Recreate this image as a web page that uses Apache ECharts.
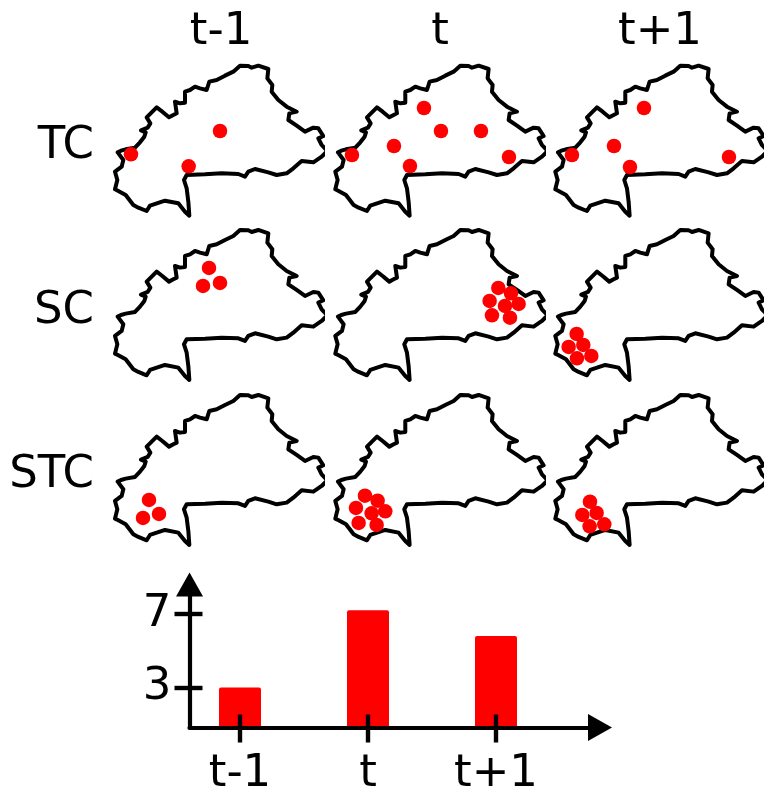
<!DOCTYPE html>
<html><head><meta charset="utf-8">
<style>html,body{margin:0;padding:0;background:#fff}#c{width:764px;height:794px}</style>
<script src="https://cdn.jsdelivr.net/npm/echarts@6/dist/echarts.min.js"></script>
</head><body><div id="c"></div>
<script>
const periods = ['t-1','t','t+1'];
const methods = ['TC','SC','STC'];
const barValues = [3, 7.2, 5.8];
const yTicks = [3, 7];
const outline = [[38,292],[48,287],[62,283],[90,278],[105,262],[118,245],[122,232],[108,226],[128,218],[136,205],[125,187],[140,172],[155,157],[172,170],[192,187],[205,180],[215,175],[210,140],[225,145],[240,143],[240,110],[255,105],[270,95],[285,100],[305,105],[313,80],[335,75],[360,62],[385,50],[405,32],[430,33],[440,38],[460,32],[490,42],[487,70],[502,90],[500,110],[520,135],[545,155],[575,170],[553,175],[550,195],[575,212],[600,230],[625,218],[640,220],[655,243],[640,250],[650,270],[667,288],[650,305],[625,322],[590,318],[565,340],[545,355],[515,360],[490,352],[450,342],[430,350],[420,365],[400,357],[350,355],[300,358],[245,360],[237,375],[245,400],[250,440],[253,482],[240,470],[220,445],[180,437],[135,452],[125,468],[100,458],[85,450],[62,420],[40,408],[30,403],[37,375],[30,350],[50,335],[55,315],[38,292]];
const tcPrev = [[345,228],[78,298],[251,334]];
const tcNow = [[296,159],[347,228],[467,228],[206,273],[80,300],[254,333],[551,306]];
const tcNext = [[296,159],[206,273],[80,300],[254,336],[551,306]];
const scPrev = [[312,146],[345,191],[294,200]];
const scNow = [[519,206],[557,222],[493,245],[539,260],[580,254],[500,288],[554,295]];
const scNext = [[94,344],[114,377],[70,383],[138,410],[95,417]];
const stcPrev = [[132,347],[162,389],[114,401]];
const stcNow = [[119,334],[157,349],[92,371],[139,387],[180,381],[100,416],[154,422]];
const stcNext = [[134,352],[154,386],[111,392],[177,420],[133,426]];
const panels = [[tcPrev,tcNow,tcNext],[scPrev,scNow,scNext],[stcPrev,stcNow,stcNext]];

const font = {fontFamily:'DejaVu Sans',fontSize:45,color:'#000',fontWeight:'normal'};
const grids=[],xs=[],ys=[],series=[],titles=[];
const colX=[105,325.3,545.3], rowY=[55,219.3,384.3];
panels.forEach((row,r)=>row.forEach((pts,c)=>{
  const i=grids.length;
  grids.push({left:colX[c],top:rowY[r],width:218,height:170,outerBoundsMode:'none'});
  xs.push({type:'value',gridIndex:i,min:0,max:654,show:false});
  ys.push({type:'value',gridIndex:i,min:0,max:510,inverse:true,show:false});
  series.push({type:'line',xAxisIndex:i,yAxisIndex:i,data:outline,showSymbol:false,symbol:'none',clip:false,silent:true,z:2,
    lineStyle:{color:'#000',width:4,join:'round',cap:'round'}});
  series.push({type:'scatter',xAxisIndex:i,yAxisIndex:i,data:pts,symbol:'circle',symbolSize:14.5,clip:false,silent:true,z:3,
    itemStyle:{color:'#ff0000',opacity:1}});
}));
periods.forEach((p,c)=>titles.push({text:p,left:[221,440,660][c],top:10,textAlign:'center',textStyle:font,padding:0}));
methods.forEach((m,r)=>titles.push({text:m,left:94,top:[124,289,453][r],textAlign:'right',textStyle:font,padding:0}));

// bar panel
const b=grids.length;
const yMin=0.83,yMax=8.6;
grids.push({left:189.5,top:584.5,width:410.5,height:143,outerBoundsMode:'none'});
const axisLine={show:true,onZero:false,symbol:['none','triangle'],symbolSize:[27,24],lineStyle:{color:'#000',width:4.2}};
const xBase={type:'value',z:10,min:-0.3945,max:2.8125,position:'bottom',gridIndex:b,splitLine:{show:false}};
const yBase={type:'value',z:10,min:yMin,max:yMax,position:'left',gridIndex:b,splitLine:{show:false}};
xs.push(Object.assign({},xBase,{axisLine,
  axisTick:{show:true,length:15,lineStyle:{color:'#000',width:4.4},customValues:[0,1,2]},
  axisLabel:{show:true,margin:24,hideOverlap:false,fontFamily:'DejaVu Sans',fontSize:45,color:'#000',customValues:[0,1,2],formatter:v=>periods[Math.round(v)]}}));
xs.push(Object.assign({},xBase,{axisLine:{show:false,onZero:false},
  axisTick:{show:true,inside:true,length:13,lineStyle:{color:'#000',width:4.4},customValues:[0,1,2]},axisLabel:{show:false}}));
ys.push(Object.assign({},yBase,{axisLine,
  axisTick:{show:true,length:15,lineStyle:{color:'#000',width:4.4},customValues:yTicks},
  axisLabel:{show:true,margin:18,fontFamily:'DejaVu Sans',fontSize:45,color:'#000',customValues:yTicks,padding:[19,0,0,0]}}));
ys.push(Object.assign({},yBase,{axisLine:{show:false,onZero:false},
  axisTick:{show:true,inside:true,length:13,lineStyle:{color:'#000',width:4.4},customValues:yTicks},axisLabel:{show:false}}));
series.push({type:'bar',xAxisIndex:xs.length-2,yAxisIndex:ys.length-2,data:barValues.map((v,i)=>[i,v]),barWidth:42,silent:true,z:1,
  itemStyle:{color:'#ff0000',borderRadius:[2,2,0,0]}});

const chart=echarts.init(document.getElementById('c'),null,{renderer:'canvas'});
chart.setOption({animation:false,backgroundColor:'#fff',title:titles,grid:grids,xAxis:xs,yAxis:ys,series});
</script></body></html>
